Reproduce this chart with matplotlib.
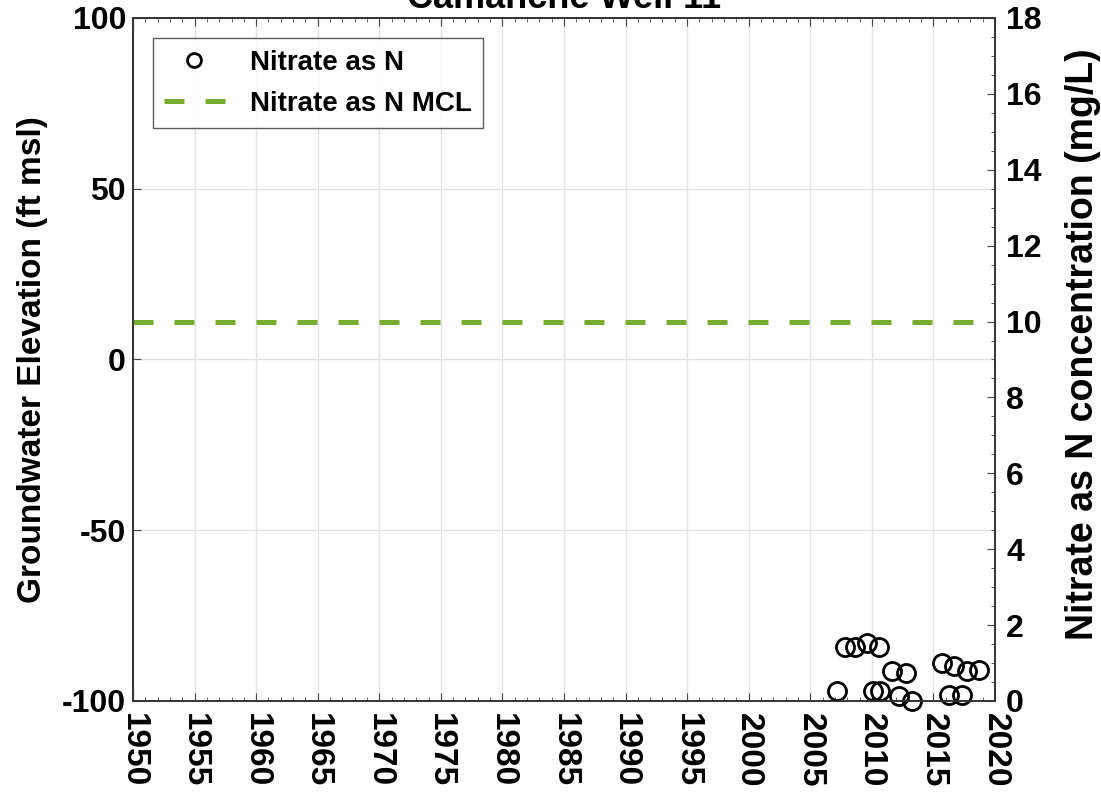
"""
Camanche Well 11 - nitrate as N time series with MCL line (MATLAB-style chart).
"""

import matplotlib
matplotlib.use("Agg")
import matplotlib.pyplot as plt
from matplotlib.ticker import MultipleLocator

plt.rcParams["font.family"] = ["Liberation Sans", "DejaVu Sans"]
plt.rcParams["font.weight"] = "bold"

TITLE = "Camanche Well 11"

# nitrate samples (decimal year, mg/L)
nitrate_years = [2007.2, 2007.8, 2008.6, 2009.6, 2010.1, 2010.6, 2010.7,
                 2011.6, 2012.2, 2012.8, 2013.3, 2015.7, 2016.3, 2016.7,
                 2017.3, 2017.7, 2018.7]
nitrate_vals = [0.26, 1.42, 1.42, 1.53, 0.26, 1.42, 0.26,
                0.79, 0.13, 0.74, 0.0, 1.0, 0.16, 0.92,
                0.16, 0.79, 0.82]
mcl = 10
year_range = [1950, 2020]
x_ticks = list(range(1950, 2021, 5))
left_ticks = [-100, -50, 0, 50, 100]
right_ticks = list(range(0, 19, 2))

TICK_FS = 23

fig = plt.figure(figsize=(11.01, 7.92), dpi=100)
ax = fig.add_axes([0.1208, 0.1149, 0.7829, 0.8624])
ax2 = ax.twinx()

# left axis: groundwater elevation (no data in this well)
ax.set_xlim(year_range)
ax.set_ylim(-100, 100)
ax.set_xticks(x_ticks)
ax.set_xticklabels([str(y) for y in x_ticks], rotation=-90, fontsize=24, fontweight="bold")
ax.xaxis.set_minor_locator(MultipleLocator(1))
ax.set_yticks(left_ticks)
ax.set_yticklabels([str(v) for v in left_ticks], fontsize=TICK_FS, fontweight="bold")
ax.grid(True, which="major", color="#e3e3e3", linewidth=1)
ax.set_axisbelow(True)
ax.tick_params(axis="both", which="both", direction="in", top=True, color="#444444")
ax.tick_params(axis="both", which="major", length=6, pad=5)
ax.tick_params(axis="x", which="major", pad=9)
ax.tick_params(axis="x", which="minor", length=3)
ax.set_ylabel("Groundwater Elevation (ft msl)", fontsize=24, fontweight="bold", labelpad=10)

# right axis: nitrate
ax2.set_ylim(0, 18)
ax2.set_yticks(right_ticks)
ax2.set_yticklabels([str(v) for v in right_ticks], fontsize=TICK_FS, fontweight="bold")
ax2.yaxis.set_minor_locator(MultipleLocator(0.5))
ax2.tick_params(axis="y", which="both", direction="in", color="#444444")
ax2.tick_params(axis="y", which="major", length=6, pad=8)
ax2.tick_params(axis="y", which="minor", length=3)
ax2.set_ylabel("Nitrate as N concentration (mg/L)", fontsize=27, fontweight="bold")
ax2.yaxis.set_label_coords(1.081, 0.522)

pts, = ax2.plot(nitrate_years, nitrate_vals, "o", markersize=13, markerfacecolor="none",
                markeredgecolor="black", markeredgewidth=2, label="Nitrate as N", clip_on=False)
mcl_line = ax2.axhline(mcl, color="#77AC30", linewidth=3.6, linestyle=(0, (4, 4.2)),
                       label="Nitrate as N MCL")

for a in (ax, ax2):
    for s in a.spines.values():
        s.set_color("#333333")
        s.set_linewidth(1.2)

leg = ax2.legend(handles=[pts, mcl_line], loc="upper left", bbox_to_anchor=(0.023, 0.97),
                 fontsize=20, frameon=True, fancybox=False, edgecolor="#333333",
                 handlelength=2.2, handletextpad=0.9, borderpad=0.4, labelspacing=0.55,
                 borderaxespad=0)
leg.get_frame().set_linewidth(1.0)
for h in leg.legend_handles:
    if hasattr(h, "set_markersize"):
        h.set_markersize(10)

fig.text(0.512, 1 - 8 / 792, TITLE, ha="center", va="baseline", fontsize=26, fontweight="bold")

plt.savefig("out.png", dpi=100)
print("Saved out.png")
